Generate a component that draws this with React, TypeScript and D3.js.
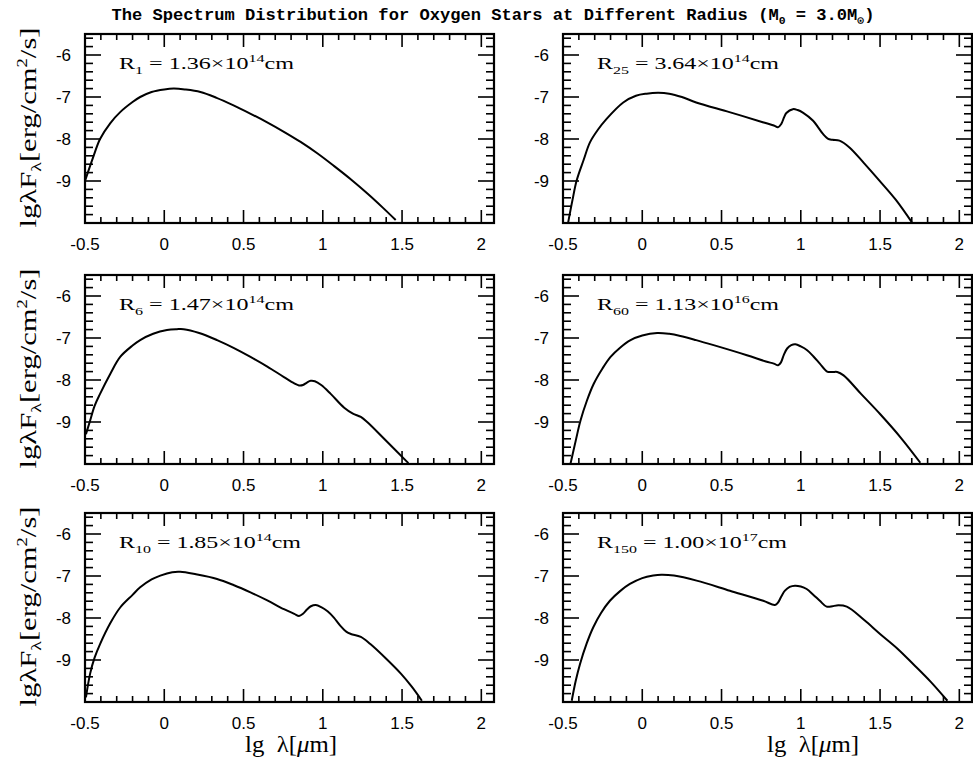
import React from 'react';
import * as d3 from 'd3';

const xTickValues = [-0.5, 0, 0.5, 1, 1.5, 2];
const xTickLabels = ['-0.5', '0', '0.5', '1', '1.5', '2'];
const yTickValues = [-6, -7, -8, -9];
const yTickLabels = ['-6', '-7', '-8', '-9'];

const r1X = [-0.5, -0.45, -0.405, -0.34, -0.278, -0.2, -0.152, -0.08, 0.0, 0.06, 0.13, 0.228, 0.33, 0.437, 0.545, 0.652, 0.76, 0.86, 0.965, 1.07, 1.18, 1.285, 1.38, 1.46];
const r1Y = [-9.0, -8.45, -8.0, -7.62, -7.36, -7.12, -7.0, -6.88, -6.82, -6.8, -6.82, -6.88, -7.02, -7.2, -7.4, -7.61, -7.84, -8.07, -8.34, -8.64, -8.97, -9.31, -9.64, -9.93];

const r25X = [-0.467, -0.44, -0.414, -0.37, -0.33, -0.28, -0.225, -0.12, -0.04, 0.027, 0.1, 0.17, 0.25, 0.34, 0.55, 0.76, 0.83, 0.856, 0.877, 0.895, 0.909, 0.95, 0.98, 1.013, 1.076, 1.14, 1.17, 1.2, 1.244, 1.307, 1.4, 1.496, 1.6, 1.7];
const r25Y = [-9.98, -9.45, -8.99, -8.5, -8.08, -7.78, -7.52, -7.13, -6.97, -6.92, -6.9, -6.92, -7.0, -7.13, -7.36, -7.6, -7.68, -7.72, -7.64, -7.48, -7.38, -7.29, -7.31, -7.37, -7.56, -7.88, -7.99, -8.02, -8.04, -8.2, -8.58, -8.99, -9.45, -9.98];

const r6X = [-0.494, -0.468, -0.44, -0.405, -0.34, -0.278, -0.2, -0.152, -0.07, 0.017, 0.08, 0.122, 0.22, 0.333, 0.44, 0.544, 0.65, 0.755, 0.82, 0.85, 0.875, 0.9, 0.924, 0.95, 0.99, 1.05, 1.135, 1.19, 1.24, 1.28, 1.39, 1.54];
const r6Y = [-9.29, -8.97, -8.62, -8.33, -7.85, -7.45, -7.18, -7.05, -6.9, -6.81, -6.79, -6.79, -6.88, -7.05, -7.24, -7.45, -7.68, -7.93, -8.08, -8.13, -8.12, -8.06, -8.02, -8.03, -8.12, -8.33, -8.66, -8.8, -8.88, -9.0, -9.41, -9.98];

const r60X = [-0.453, -0.42, -0.39, -0.35, -0.306, -0.25, -0.2, -0.14, -0.074, 0.0, 0.094, 0.17, 0.24, 0.34, 0.45, 0.66, 0.78, 0.83, 0.857, 0.875, 0.893, 0.914, 0.94, 0.966, 1.0, 1.04, 1.08, 1.12, 1.166, 1.2, 1.23, 1.27, 1.38, 1.5, 1.63, 1.754];
const r60Y = [-10.0, -9.45, -8.97, -8.5, -8.09, -7.72, -7.45, -7.23, -7.05, -6.94, -6.88, -6.9, -6.95, -7.05, -7.17, -7.41, -7.56, -7.61, -7.65, -7.58, -7.4, -7.25, -7.17, -7.15, -7.2, -7.29, -7.44, -7.61, -7.8, -7.81, -7.81, -7.89, -8.33, -8.81, -9.37, -9.97];

const r10X = [-0.494, -0.468, -0.44, -0.405, -0.34, -0.278, -0.2, -0.152, -0.08, -0.025, 0.05, 0.1, 0.2, 0.333, 0.44, 0.544, 0.65, 0.755, 0.82, 0.85, 0.875, 0.9, 0.925, 0.956, 0.99, 1.03, 1.07, 1.11, 1.15, 1.177, 1.24, 1.3, 1.4, 1.494, 1.56, 1.625];
const r10Y = [-9.89, -9.33, -8.95, -8.62, -8.12, -7.75, -7.45, -7.27, -7.08, -6.99, -6.91, -6.9, -6.96, -7.07, -7.22, -7.39, -7.58, -7.79, -7.9, -7.95, -7.9, -7.8, -7.72, -7.69, -7.74, -7.84, -7.99, -8.18, -8.33, -8.38, -8.45, -8.62, -8.97, -9.33, -9.63, -9.97];

const r150X = [-0.445, -0.42, -0.393, -0.35, -0.309, -0.26, -0.204, -0.14, -0.078, 0.0, 0.069, 0.12, 0.2, 0.343, 0.553, 0.763, 0.837, 0.857, 0.878, 0.9, 0.93, 0.963, 1.0, 1.037, 1.08, 1.12, 1.163, 1.2, 1.226, 1.29, 1.4, 1.5, 1.61, 1.71, 1.82, 1.925];
const r150Y = [-9.97, -9.5, -9.1, -8.6, -8.22, -7.88, -7.59, -7.36, -7.19, -7.05, -6.99, -6.97, -6.99, -7.11, -7.35, -7.59, -7.69, -7.63, -7.48, -7.35, -7.26, -7.23, -7.25, -7.31, -7.45, -7.59, -7.73, -7.72, -7.7, -7.73, -8.05, -8.38, -8.73, -9.1, -9.52, -9.97];

const panelLabels = [
  { sub: '1', value: '1.36', exp: '14' },
  { sub: '25', value: '3.64', exp: '14' },
  { sub: '6', value: '1.47', exp: '14' },
  { sub: '60', value: '1.13', exp: '16' },
  { sub: '10', value: '1.85', exp: '14' },
  { sub: '150', value: '1.00', exp: '17' },
];
const seriesX = [r1X, r25X, r6X, r60X, r10X, r150X];
const seriesY = [r1Y, r25Y, r6Y, r60Y, r10Y, r150Y];

const colRanges: [number, number][] = [[85, 494], [563, 972]];
const rowTops = [34, 275, 513];
const panelH = 189;
const xDomain: [number, number] = [-0.5, 2.08];
const yDomain: [number, number] = [-10, -5.5];

const serif = '"Liberation Serif", "DejaVu Serif", serif';
const sans = '"Liberation Sans", Arial, sans-serif';

function Panel({ idx }: { idx: number }) {
  const col = idx % 2;
  const row = Math.floor(idx / 2);
  const [x0, x1] = colRanges[col];
  const top = rowTops[row];
  const bottom = top + panelH;
  const x = d3.scaleLinear().domain(xDomain).range([x0, x1]);
  const y = d3.scaleLinear().domain(yDomain).range([bottom, top]);
  const pts = seriesX[idx].map((v, i) => [v, seriesY[idx][i]] as [number, number]);
  const line = d3.line<[number, number]>().x(d => x(d[0])).y(d => y(d[1])).curve(d3.curveCatmullRom.alpha(0.5));
  const xMinor = d3.range(-5, 21).map(v => v / 10);
  const yMinor = d3.range(0, 23).map(v => -10 + v * 0.2);
  const clipId = `clip${idx}`;
  const lab = panelLabels[idx];
  const sw = 1.6;
  const labLen = lab.sub.length === 1 ? 175 : lab.sub.length === 2 ? 182 : 190;
  return (
    <g>
      <defs>
        <clipPath id={clipId}>
          <rect x={x0} y={top} width={x1 - x0} height={panelH} />
        </clipPath>
      </defs>
      {xMinor.map((v, i) => {
        const major = Math.abs(v * 2 - Math.round(v * 2)) < 1e-6;
        const len = major ? 13 : 6;
        return (
          <g key={'xt' + i} stroke="#000" strokeWidth={sw}>
            <line x1={x(v)} x2={x(v)} y1={bottom} y2={bottom - len} />
            <line x1={x(v)} x2={x(v)} y1={top} y2={top + len} />
          </g>
        );
      })}
      {yMinor.map((v, i) => {
        const major = Math.abs(v - Math.round(v)) < 1e-6;
        const len = major ? 16 : 8;
        return (
          <g key={'yt' + i} stroke="#000" strokeWidth={sw}>
            <line x1={x0} x2={x0 + len} y1={y(v)} y2={y(v)} />
            <line x1={x1} x2={x1 - len} y1={y(v)} y2={y(v)} />
          </g>
        );
      })}
      <rect x={x0} y={top} width={x1 - x0} height={panelH} fill="none" stroke="#000" strokeWidth={2.2} />
      <path d={line(pts) || ''} fill="none" stroke="#000" strokeWidth={2} clipPath={`url(#${clipId})`} />
      {xTickValues.map((v, i) => (
        <text key={'xl' + i} x={x(v)} y={bottom + 27} textAnchor="middle" fontFamily={sans} fontSize={17}>{xTickLabels[i]}</text>
      ))}
      {yTickValues.map((v, i) => (
        <text key={'yl' + i} x={x0 - 14} y={y(v) + 6} textAnchor="end" fontFamily={sans} fontSize={17}>{yTickLabels[i]}</text>
      ))}
      <text x={x0 + 34} y={top + 35} fontFamily={serif} fontSize={16.5} textLength={labLen} lengthAdjust="spacingAndGlyphs">
        R<tspan fontSize={11} dy={5}>{lab.sub}</tspan>
        <tspan dy={-5}>{' = ' + lab.value + '×10'}</tspan>
        <tspan fontSize={11} dy={-7}>{lab.exp}</tspan>
        <tspan dy={7}>cm</tspan>
      </text>
      {col === 0 && (
        <text transform={`translate(${36},${(top + bottom) / 2 - 1}) rotate(-90)`} textAnchor="middle" fontFamily={serif} fontSize={23} textLength={200} lengthAdjust="spacingAndGlyphs">
          lgλF<tspan fontSize={15} dy={5}>λ</tspan><tspan dy={-5}>[erg/cm</tspan><tspan fontSize={14} dy={-9}>2</tspan><tspan dy={9}>/s]</tspan>
        </text>
      )}
    </g>
  );
}

export default function App() {
  const xTitle = 'lg\u00a0\u00a0λ[';
  return (
    <svg width={973} height={770} style={{ position: 'absolute', left: 0, top: 0, background: '#fff' }}>
      <rect width={973} height={770} fill="#fff" />
      <text x={493} y={20} textAnchor="middle" fontFamily='"Liberation Mono", "DejaVu Sans Mono", monospace' fontWeight="bold" fontSize={16.5} textLength={763} lengthAdjust="spacingAndGlyphs">
        The Spectrum Distribution for Oxygen Stars at Different Radius (M<tspan fontSize={11} dy={4}>0</tspan><tspan dy={-4}> = 3.0M</tspan><tspan fontSize={11} dy={4}>⊙</tspan><tspan dy={-4}>)</tspan>
      </text>
      {[0, 1, 2, 3, 4, 5].map(i => <Panel key={i} idx={i} />)}
      <text x={291} y={752} textAnchor="middle" fontFamily={serif} fontSize={23} textLength={92} lengthAdjust="spacingAndGlyphs">
        {xTitle}<tspan fontStyle="italic">μ</tspan>m]
      </text>
      <text x={813} y={752} textAnchor="middle" fontFamily={serif} fontSize={23} textLength={92} lengthAdjust="spacingAndGlyphs">
        {xTitle}<tspan fontStyle="italic">μ</tspan>m]
      </text>
    </svg>
  );
}
